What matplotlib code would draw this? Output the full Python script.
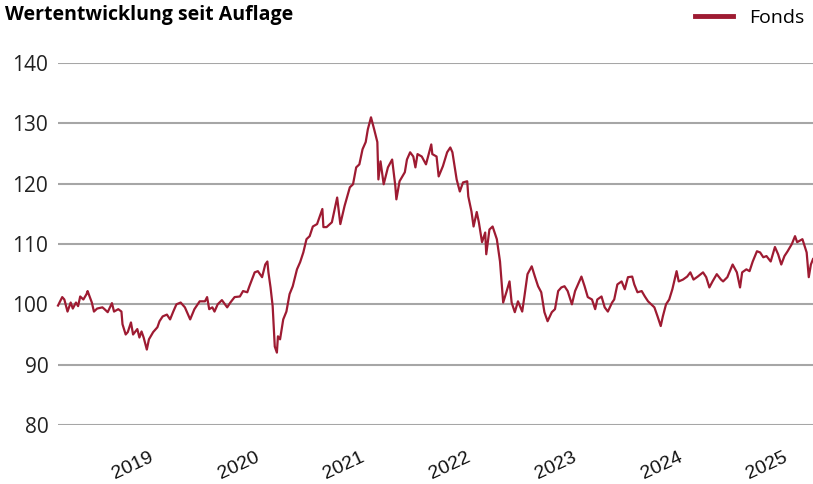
import matplotlib
matplotlib.use("Agg")
import matplotlib.pyplot as plt

# time in decimal years, fund value (indexed, start = 100)
t = [
    2018.14, 2018.18, 2018.20, 2018.23, 2018.26, 2018.28, 2018.31, 2018.33, 2018.35, 2018.38,
    2018.41, 2018.42, 2018.46, 2018.48, 2018.51, 2018.56, 2018.58, 2018.61, 2018.65, 2018.67,
    2018.71, 2018.74, 2018.75, 2018.78, 2018.80, 2018.83, 2018.85, 2018.89, 2018.91, 2018.93,
    2018.95, 2018.98, 2019.00, 2019.04, 2019.08, 2019.10, 2019.13, 2019.17, 2019.20, 2019.23,
    2019.26, 2019.30, 2019.34, 2019.39, 2019.42, 2019.43, 2019.48, 2019.53, 2019.55, 2019.57,
    2019.60, 2019.62, 2019.65, 2019.69, 2019.74, 2019.77, 2019.81, 2019.86, 2019.89, 2019.93,
    2019.95, 2020.00, 2020.03, 2020.07, 2020.10, 2020.12, 2020.13, 2020.15, 2020.17, 2020.19,
    2020.21, 2020.22, 2020.24, 2020.27, 2020.30, 2020.33, 2020.36, 2020.40, 2020.43, 2020.46,
    2020.49, 2020.52, 2020.55, 2020.59, 2020.64, 2020.65, 2020.68, 2020.73, 2020.78, 2020.81,
    2020.85, 2020.90, 2020.93, 2020.96, 2020.99, 2021.02, 2021.05, 2021.07, 2021.10, 2021.13,
    2021.16, 2021.17, 2021.19, 2021.22, 2021.26, 2021.30, 2021.33, 2021.34, 2021.37, 2021.42,
    2021.44, 2021.47, 2021.50, 2021.52, 2021.54, 2021.58, 2021.62, 2021.67, 2021.68, 2021.72,
    2021.74, 2021.78, 2021.82, 2021.85, 2021.87, 2021.91, 2021.94, 2021.97, 2022.01, 2022.02,
    2022.05, 2022.07, 2022.10, 2022.12, 2022.15, 2022.18, 2022.19, 2022.22, 2022.25, 2022.29,
    2022.32, 2022.35, 2022.38, 2022.41, 2022.43, 2022.46, 2022.49, 2022.53, 2022.55, 2022.58,
    2022.62, 2022.65, 2022.68, 2022.71, 2022.74, 2022.77, 2022.81, 2022.84, 2022.87, 2022.90,
    2022.93, 2022.96, 2023.00, 2023.03, 2023.05, 2023.09, 2023.12, 2023.15, 2023.19, 2023.22,
    2023.24, 2023.28, 2023.31, 2023.34, 2023.38, 2023.40, 2023.43, 2023.47, 2023.50, 2023.53,
    2023.57, 2023.59, 2023.62, 2023.66, 2023.69, 2023.72, 2023.75, 2023.78, 2023.81, 2023.84,
    2023.86, 2023.89, 2023.92, 2023.95, 2023.99, 2024.01, 2024.05, 2024.09, 2024.12, 2024.15,
    2024.19, 2024.24, 2024.27, 2024.30, 2024.33, 2024.37, 2024.41, 2024.43, 2024.47, 2024.52,
    2024.56, 2024.59, 2024.61, 2024.65, 2024.68, 2024.71, 2024.75, 2024.78, 2024.81, 2024.84,
    2024.88, 2024.92, 2024.95, 2024.98, 2025.01, 2025.04, 2025.08, 2025.11, 2025.13, 2025.18,
    2025.22, 2025.24, 2025.26, 2025.28,
]
fonds = [
    99.8, 101.2, 100.8, 98.8, 100.3, 99.3, 100.3, 99.7, 101.3, 100.8,
    101.7, 102.2, 100.3, 98.8, 99.3, 99.5, 99.2, 98.7, 100.2, 98.8,
    99.2, 98.8, 96.7, 95.0, 95.4, 97.0, 95.0, 95.9, 94.5, 95.5,
    94.5, 92.5, 94.2, 95.4, 96.2, 97.2, 98.0, 98.3, 97.5, 98.8,
    100.0, 100.3, 99.5, 97.5, 98.8, 99.2, 100.5, 100.5, 101.2, 99.2,
    99.5, 98.8, 100.0, 100.7, 99.5, 100.3, 101.2, 101.3, 102.2, 102.0,
    103.0, 105.3, 105.5, 104.5, 106.6, 107.1, 105.3, 102.8, 99.7, 93.0,
    92.0, 94.7, 94.2, 97.5, 98.8, 101.7, 103.0, 105.8, 107.0, 108.6,
    110.8, 111.3, 112.9, 113.3, 115.8, 112.8, 112.8, 113.6, 117.7, 113.3,
    116.3, 119.4, 119.9, 122.7, 123.2, 125.7, 126.9, 129.0, 131.0, 129.0,
    126.9, 120.7, 123.7, 119.9, 122.7, 124.0, 119.6, 117.4, 120.4, 121.9,
    124.0, 125.2, 124.5, 122.7, 124.9, 124.5, 123.2, 126.5, 124.9, 124.5,
    121.2, 122.9, 125.2, 126.0, 125.2, 120.7, 118.7, 120.2, 120.4, 117.9,
    115.4, 112.9, 115.3, 113.6, 110.3, 111.9, 108.3, 112.4, 112.9, 110.8,
    107.1, 100.3, 102.0, 103.8, 100.3, 98.7, 100.5, 98.8, 101.2, 105.0,
    106.3, 104.6, 103.0, 102.0, 98.7, 97.2, 98.7, 99.2, 102.2, 102.8,
    103.0, 102.2, 100.0, 102.2, 103.0, 104.6, 103.0, 101.2, 100.8, 99.2,
    100.8, 101.3, 99.5, 98.8, 100.3, 100.8, 103.3, 103.8, 102.5, 104.5,
    104.6, 103.3, 102.0, 102.2, 101.3, 100.5, 100.0, 99.5, 98.0, 96.4,
    98.0, 100.0, 100.8, 102.5, 105.5, 103.8, 104.1, 104.6, 105.3, 104.1,
    104.6, 105.3, 104.5, 102.8, 103.8, 105.0, 104.1, 103.8, 104.5, 106.6,
    105.3, 102.8, 105.3, 105.8, 105.5, 107.1, 108.8, 108.6, 107.8, 108.0,
    107.1, 109.5, 108.3, 106.6, 108.0, 108.8, 110.0, 111.3, 110.3, 110.8,
    108.6, 104.5, 106.6, 107.5,
]
years = [2019, 2020, 2021, 2022, 2023, 2024, 2025]
y_ticks = [80, 90, 100, 110, 120, 130, 140]

line_color = "#9e1b32"

fig = plt.figure(figsize=(8.13, 4.84), dpi=100)
ax = fig.add_axes([58 / 813, 1 - 425 / 484, 755 / 813, 362 / 484])

ax.plot(t, fonds, color=line_color, lw=1.6, label="Fonds", clip_on=False)

ax.set_xlim(2018.14, 2025.28)
ax.set_ylim(80, 140)
ax.set_yticks(y_ticks)
ax.set_yticklabels([str(v) for v in y_ticks], fontsize=15, family="Open Sans", color="#222222")
ax.set_xticks(years)
ax.set_xticklabels([str(y) for y in years], fontsize=14, family="Liberation Sans",
                   rotation=25, ha="right", va="top", rotation_mode="anchor", color="#111111")
ax.tick_params(axis="both", length=0)
ax.tick_params(axis="y", pad=7)
ax.tick_params(axis="x", pad=17)
ax.grid(axis="y", color="#a6a6a6", lw=1.5)
ax.set_axisbelow(True)
for s in ax.spines.values():
    s.set_visible(False)

fig.text(5 / 813, 1 - 5 / 484, "Wertentwicklung seit Auflage", fontsize=14, fontweight="bold",
         family="Open Sans", ha="left", va="top", color="#000000")
leg = fig.legend(loc="upper right", bbox_to_anchor=(1.0, 1.0), frameon=False,
                 prop={"family": "Open Sans", "size": 14}, handlelength=2.0, handletextpad=0.8,
                 borderaxespad=0.05)
for h in leg.get_lines():
    h.set_linewidth(3.5)

fig.savefig("out.png", dpi=100)
